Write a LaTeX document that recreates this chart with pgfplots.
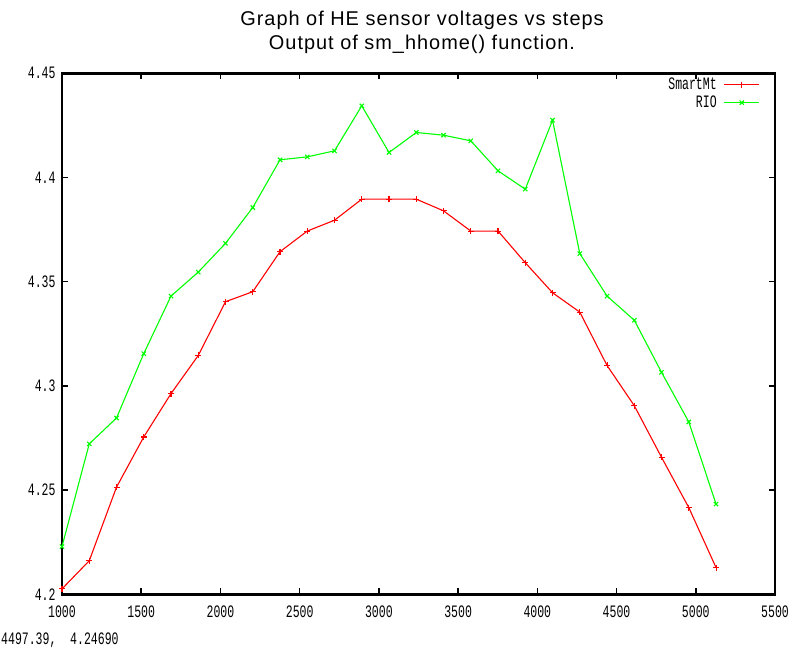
\documentclass[border=0pt]{standalone}
\usepackage{fontspec}
\setmainfont{Liberation Sans}
\newfontfamily\titlefont[LetterSpace=5]{Liberation Sans}
\newfontfamily\gpfont[FakeStretch=0.66]{Liberation Mono}
\usepackage{pgfplots}
\pgfplotsset{compat=1.18}

\pgfplotstableread{
steps  smartmt  rio
1000   4.2026   4.2229
1172   4.2161   4.2722
1344   4.2514   4.2846
1516   4.2755   4.3155
1688   4.2963   4.3431
1860   4.3146   4.3546
2032   4.3404   4.3684
2204   4.3452   4.3856
2376   4.3644   4.4085
2548   4.3743   4.4099
2720   4.3795   4.4128
2892   4.3896   4.4344
3064   4.3896   4.4120
3236   4.3896   4.4216
3408   4.3840   4.4203
3580   4.3743   4.4176
3752   4.3743   4.4032
3924   4.3591   4.3944
4096   4.3447   4.4275
4268   4.3354   4.3635
4440   4.3098   4.3431
4612   4.2905   4.3315
4784   4.2657   4.3065
4956   4.2416   4.2827
5128   4.2128   4.2433
}\hesensor

\begin{document}
\begin{tikzpicture}
\path[use as bounding box] (-62bp,-54.7bp) rectangle (747bp,594.3bp);
\begin{axis}[
    scale only axis,
    width=713bp,
    height=521bp,
    xmin=1000, xmax=5500,
    ymin=4.2, ymax=4.45,
    xtick={1000,1500,2000,2500,3000,3500,4000,4500,5000,5500},
    ytick={4.2,4.25,4.3,4.35,4.4,4.45},
    tick align=inside,
    major tick length=6bp,
    tick style={black, line width=1.5bp},
    axis line style={black, line width=2.5bp},
    /pgf/number format/1000 sep={},
    /pgf/number format/assume math mode=true,
    tick label style={font=\gpfont\fontsize{17.5}{17.5}\selectfont},
    yticklabel style={xshift=-3bp},
    xticklabel style={yshift=-8bp},
    legend plot pos=right,
    legend cell align=right,
    legend style={draw=none, fill=none, at={(1,1)}, anchor=north east,
        xshift=-12bp, yshift=-1.5bp, row sep=3bp, column sep=6bp,
        nodes={inner sep=1bp},
        font=\gpfont\fontsize{17.5}{17.5}\selectfont},
    legend image code/.code={
        \draw[mark repeat=2,mark phase=2,#1] plot coordinates {(0bp,0bp) (17.5bp,0bp) (35bp,0bp)};
    },
]
\addplot[color=red, line width=1.1bp, mark=+, mark size=3bp] table[x=steps, y=smartmt] {\hesensor};
\addlegendentry{SmartMt}
\addplot[color=green, line width=1.1bp, mark=x, mark size=3bp] table[x=steps, y=rio] {\hesensor};
\addlegendentry{RIO}
\end{axis}
\node[anchor=base, font=\titlefont\fontsize{20}{20}\selectfont] at (360bp,569bp) {Graph of HE sensor voltages vs steps};
\node[anchor=base, font=\titlefont\fontsize{20}{20}\selectfont] at (360bp,545bp) {Output of sm\_hhome() function.};
\node[anchor=west, inner sep=0pt, font=\gpfont\fontsize{17.5}{17.5}\selectfont] at (-61bp,-45.5bp) {4497.39,\ \ 4.24690};
\end{tikzpicture}
\end{document}
